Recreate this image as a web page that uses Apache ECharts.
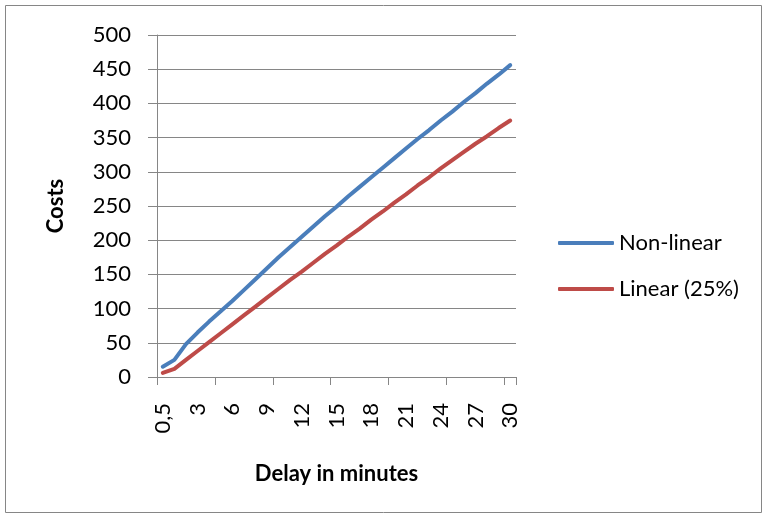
<!DOCTYPE html>
<html>
<head>
<meta charset="utf-8">
<script src="https://cdn.jsdelivr.net/npm/echarts@6/dist/echarts.min.js"></script>
<style>
  html, body { margin: 0; padding: 0; background: #fff; }
  #main { width: 768px; height: 519px; }
</style>
</head>
<body>
<div id="main"></div>
<script>
// delay in minutes (category labels)
var categories = ["0,5", "1", "2", "3", "4", "5", "6", "7", "8", "9", "10",
  "11", "12", "13", "14", "15", "16", "17", "18", "19", "20",
  "21", "22", "23", "24", "25", "26", "27", "28", "29", "30"];

// costs
var nonLinear = [15, 25, 48, 65, 81, 96, 111, 127, 143, 159, 175,
  190, 205, 220, 235, 249, 264, 278, 292, 306, 320,
  334, 348, 361, 375, 388, 402, 415, 429, 442, 456];
var linear25 = [6, 12, 25, 38, 51, 64, 77, 90, 103, 116, 129,
  142, 154, 167, 180, 192, 205, 217, 230, 242, 255,
  267, 280, 292, 305, 317, 329, 341, 352, 364, 375];

var seriesNames = ["Non-linear", "Linear (25%)"];

var myChart = echarts.init(document.getElementById("main"));
var gray = "#868686";
var font = "Lato";

var option = {
  backgroundColor: "#fff",
  animation: false,
  color: ["#4A7EBB", "#BE4B48"],
  graphic: [
    {
      type: "rect",
      shape: { x: 5.5, y: 5.5, width: 756, height: 507 },
      style: { fill: "none", stroke: gray, lineWidth: 1 },
      silent: true,
    },
  ],
  legend: {
    orient: "vertical",
    left: 553,
    top: 227,
    itemWidth: 56,
    itemHeight: 4,
    itemGap: 24,
    icon: "roundRect",
    textStyle: { fontFamily: font, fontSize: 22, color: "#000" },
    data: seriesNames,
  },
  grid: {
    left: 157,
    right: 252,
    top: 35,
    bottom: 142,
  },
  xAxis: {
    type: "category",
    data: categories,
    boundaryGap: true,
    name: "Delay in minutes",
    nameLocation: "middle",
    nameGap: 86,
    nameTextStyle: { fontFamily: font, fontSize: 22, fontWeight: "bold", color: "#000" },
    axisLine: { lineStyle: { color: gray, width: 1 } },
    axisTick: { show: true, interval: 4, length: 8, lineStyle: { color: gray } },
    axisLabel: {
      interval: 2,
      rotate: 90,
      margin: 26,
      fontFamily: font,
      fontSize: 22,
      color: "#000",
    },
    splitLine: { show: false },
  },
  yAxis: {
    type: "value",
    min: 0,
    max: 500,
    interval: 50,
    name: "Costs",
    nameLocation: "middle",
    nameGap: 90,
    nameTextStyle: { fontFamily: font, fontSize: 22, fontWeight: "bold", color: "#000" },
    axisLine: { show: true, lineStyle: { color: gray, width: 1 } },
    axisTick: { show: true, length: 9, lineStyle: { color: gray } },
    axisLabel: { margin: 26, fontFamily: font, fontSize: 22, color: "#000" },
    splitLine: { show: true, lineStyle: { color: gray, width: 1 } },
  },
  series: [
    {
      name: seriesNames[0],
      type: "line",
      data: nonLinear,
      symbol: "none",
      lineStyle: { width: 4, color: "#4A7EBB", cap: "round", join: "round" },
    },
    {
      name: seriesNames[1],
      type: "line",
      data: linear25,
      symbol: "none",
      lineStyle: { width: 4, color: "#BE4B48", cap: "round", join: "round" },
    },
  ],
};

option && myChart.setOption(option);
</script>
</body>
</html>
